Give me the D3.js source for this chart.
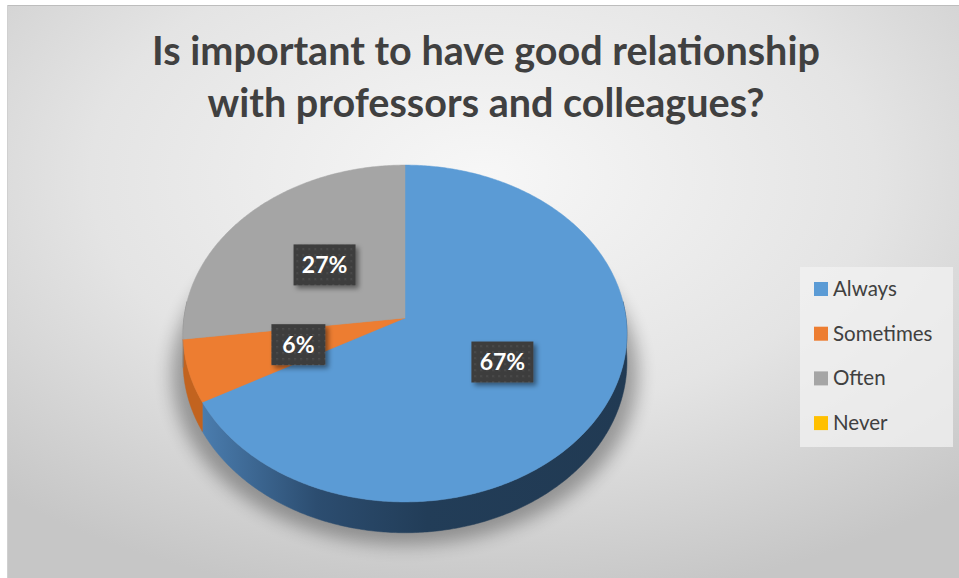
<!DOCTYPE html>
<html>
<head>
<meta charset="utf-8">
<script src="https://cdn.jsdelivr.net/npm/d3@7"></script>
<style>
  body { margin: 0; background: #fff; }
  text { font-family: Lato, 'Open Sans', sans-serif; }
</style>
</head>
<body>
<script>
const width = 959
const height = 578

const categories = ['Always', 'Sometimes', 'Often', 'Never']
const values = [67, 6, 27, 0]
const labels = ['67%', '6%', '27%', '']
const titleLines = ['Is important to have good relationship', 'with professors and colleagues?']

const color = d3.scaleOrdinal()
  .domain(categories)
  .range(['#5b9bd5', '#ed7d31', '#a5a5a5', '#ffc000'])
const sideColor = d3.scaleOrdinal()
  .domain(categories)
  .range(['url(#blueSide)', '#c2631f', '#7f7f7f', '#bf9000'])

// 3d projection of the tilted pie
const cx = 405, cy = 318, R = 221, K = 167, P = 0.092, depth = 28

function proj(a, f, z) {
  const u = f * Math.sin(a), v = f * Math.cos(a)
  const s = 1 / (1 + P * v)
  return [cx + R * u * s, cy - K * v * s + z * s]
}

function arcPoints(a0, a1, f, z) {
  const n = Math.max(2, Math.ceil((a1 - a0) / 0.01))
  return d3.range(n + 1).map(i => proj(a0 + (a1 - a0) * i / n, f, z))
}

const svg = d3.select('body').append('svg').attr('width', width).attr('height', height)
const defs = svg.append('defs')

const bg = defs.append('radialGradient').attr('id', 'bg')
  .attr('cx', '50%').attr('cy', '30%').attr('r', '75%')
bg.append('stop').attr('offset', '0%').attr('stop-color', '#f7f7f7')
bg.append('stop').attr('offset', '55%').attr('stop-color', '#e4e4e4')
bg.append('stop').attr('offset', '100%').attr('stop-color', '#c6c6c6')

const bs = defs.append('linearGradient').attr('id', 'blueSide')
  .attr('gradientUnits', 'userSpaceOnUse')
  .attr('x1', cx - R).attr('x2', cx + R).attr('y1', 0).attr('y2', 0)
bs.append('stop').attr('offset', '0%').attr('stop-color', '#4f84b8')
bs.append('stop').attr('offset', '30%').attr('stop-color', '#2c4d70')
bs.append('stop').attr('offset', '55%').attr('stop-color', '#223d58')
bs.append('stop').attr('offset', '100%').attr('stop-color', '#213a53')

defs.append('filter').attr('id', 'blur')
  .attr('x', '-20%').attr('y', '-20%').attr('width', '140%').attr('height', '140%')
  .append('feGaussianBlur').attr('stdDeviation', 9)

const ds = defs.append('filter').attr('id', 'lblShadow')
  .attr('x', '-30%').attr('y', '-30%').attr('width', '160%').attr('height', '160%')
ds.append('feDropShadow').attr('dx', 3).attr('dy', 3).attr('stdDeviation', 2.5)
  .attr('flood-color', '#000').attr('flood-opacity', 0.45)

const dots = defs.append('pattern').attr('id', 'dots')
  .attr('patternUnits', 'userSpaceOnUse').attr('width', 6).attr('height', 6)
dots.append('rect').attr('width', 6).attr('height', 6).attr('fill', '#3e3e3e')
dots.append('rect').attr('x', 2).attr('y', 2).attr('width', 1.3).attr('height', 1.3).attr('fill', '#5a5a5a')

// chart area
svg.append('rect').attr('x', 7).attr('y', 5).attr('width', width - 7).attr('height', height - 5)
  .attr('fill', 'url(#bg)')
svg.append('line').attr('x1', 7).attr('x2', width).attr('y1', 5.5).attr('y2', 5.5)
  .attr('stroke', '#bdbdbd')
svg.append('line').attr('x1', 7.5).attr('x2', 7.5).attr('y1', 5).attr('y2', height)
  .attr('stroke', '#d0d0d0')

// title
const title = svg.append('g').attr('fill', '#404040').attr('font-weight', 'bold')
  .attr('text-anchor', 'middle')
const t1 = title.append('text').attr('x', 486).attr('y', 65).attr('font-size', 36).text(titleLines[0])
const len = t1.node().getComputedTextLength()
const fs = 36 * 668 / len
t1.attr('font-size', fs)
title.append('text').attr('x', 486).attr('y', 117).attr('font-size', fs).text(titleLines[1])

const pie = d3.pie().sort(null).value(d => d)
const arcs = pie(values)

const chart = svg.append('g')

// soft shadow below the pie
const outline = arcPoints(0, 2 * Math.PI, 1, depth)
chart.append('path')
  .attr('d', d3.line()(outline.map(p => [p[0] + (p[0] - cx) * 0.05, p[1] + 12])) + 'Z')
  .attr('fill', '#000').attr('opacity', 0.32).attr('filter', 'url(#blur)')

// side walls (front half only)
chart.selectAll('path.side')
  .data(arcs.filter(d => d.endAngle > Math.PI / 2 && d.startAngle < 3 * Math.PI / 2 && d.value > 0))
  .join('path')
  .attr('class', 'side')
  .attr('d', d => {
    const a0 = Math.max(d.startAngle, Math.PI / 2 - 0.1)
    const a1 = Math.min(d.endAngle, 3 * Math.PI / 2 + 0.1)
    const top = arcPoints(a0, a1, 1, 0)
    const bot = arcPoints(a0, a1, 1, depth).reverse()
    return d3.line()(top.concat(bot)) + 'Z'
  })
  .attr('fill', (d, i) => sideColor(categories[d.index]))
  .attr('stroke', (d, i) => sideColor(categories[d.index]))
  .attr('stroke-width', 0.5)

// top faces
chart.selectAll('path.top')
  .data(arcs.filter(d => d.value > 0))
  .join('path')
  .attr('class', 'top')
  .attr('d', d => d3.line()([proj(0, 0, 0)].concat(arcPoints(d.startAngle, d.endAngle, 1, 0))) + 'Z')
  .attr('fill', d => color(categories[d.index]))
  .attr('stroke', d => color(categories[d.index]))
  .attr('stroke-width', 0.5)

// data labels
const lbl = chart.selectAll('g.lbl')
  .data(arcs.filter(d => d.value > 0))
  .join('g')
  .attr('class', 'lbl')
  .attr('transform', d => {
    const p = proj((d.startAngle + d.endAngle) / 2, 0.5, 0)
    return `translate(${p})`
  })
lbl.append('rect')
  .attr('x', d => labels[d.index].length > 2 ? -31 : -27)
  .attr('width', d => labels[d.index].length > 2 ? 62 : 54)
  .attr('y', -20).attr('height', 41)
  .attr('fill', 'url(#dots)')
  .attr('filter', 'url(#lblShadow)')
lbl.append('text')
  .attr('text-anchor', 'middle')
  .attr('y', 8.5)
  .attr('fill', '#fff')
  .attr('font-weight', 'bold')
  .attr('font-size', 23)
  .text(d => labels[d.index])

// legend
const legend = svg.append('g').attr('transform', 'translate(800,267)')
legend.append('rect').attr('width', 153).attr('height', 180).attr('fill', '#f2f2f2').attr('opacity', 0.75)
const item = legend.selectAll('g.item')
  .data(categories)
  .join('g')
  .attr('class', 'item')
  .attr('transform', (d, i) => `translate(14,${22 + i * 44.7})`)
item.append('rect').attr('y', -7).attr('width', 14).attr('height', 14).attr('fill', d => color(d))
item.append('text').attr('x', 19).attr('y', 7).attr('font-size', 20.5).attr('fill', '#404040')
  .text(d => d)
</script>
</body>
</html>
